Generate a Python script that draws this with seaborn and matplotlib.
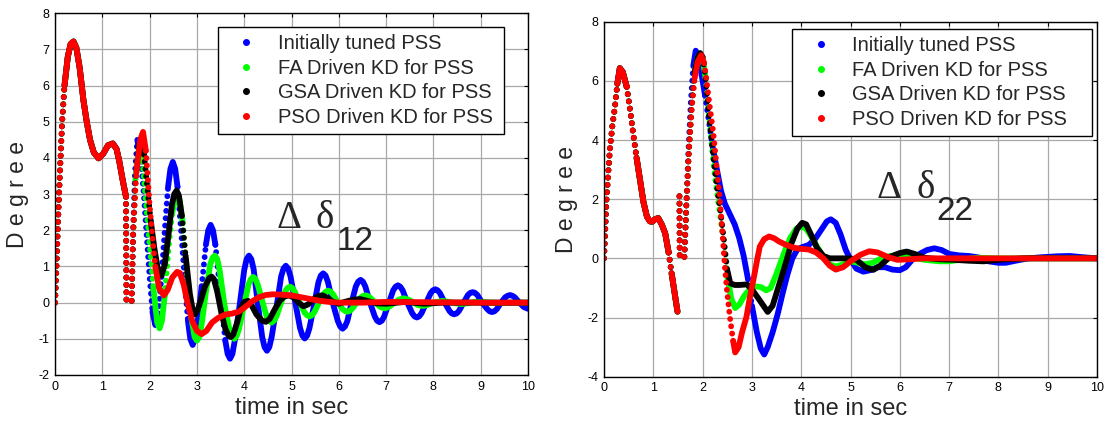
import numpy as np
import pandas as pd
import matplotlib
matplotlib.use("Agg")
import matplotlib.pyplot as plt
from matplotlib.lines import Line2D
import seaborn as sns

sns.set_style("white")
plt.rcParams["font.family"] = ["Liberation Sans", "DejaVu Sans"]
plt.rcParams["axes.unicode_minus"] = False

# ---------------- Delta delta_12 (left panel) ----------------
# part shared by all controllers, ending with the jump at the switching instant
t12_pre = [0.0, 0.03, 0.07, 0.10, 0.15, 0.20, 0.27, 0.33, 0.39, 0.45, 0.52, 0.60,
           0.67, 0.74, 0.82, 0.92, 1.02, 1.12, 1.22, 1.30, 1.36, 1.43, 1.50, 1.51]
d12_pre = [0.0, 1.0, 2.5, 3.5, 5.0, 6.0, 6.8, 7.15, 7.22, 7.05, 6.5, 5.6,
           5.0, 4.5, 4.15, 3.99, 4.12, 4.35, 4.40, 4.25, 3.9, 3.39, 2.93, 0.05]

t12_blue = [1.62, 1.65, 1.69, 1.74, 1.80, 1.87, 1.94, 2.00, 2.06, 2.12, 2.18, 2.25,
            2.33, 2.39, 2.44, 2.49, 2.54, 2.59, 2.67, 2.76, 2.81, 2.86, 2.91, 2.96,
            3.01, 3.10, 3.19, 3.24, 3.29, 3.34, 3.39, 3.50, 3.60, 3.65, 3.70, 3.75,
            3.80, 3.90, 4.00, 4.05, 4.10, 4.15, 4.20, 4.29, 4.38, 4.43, 4.48, 4.53,
            4.58, 4.68, 4.78, 4.83, 4.88, 4.93, 4.98, 5.08, 5.18, 5.23, 5.28, 5.33,
            5.38, 5.48, 5.57, 5.62, 5.67, 5.72, 5.77, 5.87, 5.98, 6.03, 6.08, 6.13,
            6.18, 6.27, 6.36, 6.41, 6.46, 6.51, 6.56, 6.66, 6.76, 6.81, 6.86, 6.91,
            6.96, 7.06, 7.15, 7.20, 7.25, 7.30, 7.35, 7.45, 7.55, 7.60, 7.65, 7.70,
            7.75, 7.85, 7.94, 7.99, 8.04, 8.09, 8.14, 8.24, 8.34, 8.39, 8.44, 8.49,
            8.54, 8.64, 8.73, 8.78, 8.83, 8.88, 8.93, 9.03, 9.14, 9.19, 9.24, 9.29,
            9.34, 9.43, 9.52, 9.57, 9.62, 9.67, 9.72, 9.82, 9.91, 10.0]
d12_blue = [0.05, 2.0, 3.6, 4.5, 4.1, 3.1, 1.8, 0.7, -0.25, -0.62, -0.3, 0.7,
            2.2, 3.2, 3.7, 3.89, 3.7, 3.2, 1.9, 0.3, -0.5, -1.0, -1.17, -1.0,
            -0.6, 0.45, 1.6, 2.0, 2.15, 2.0, 1.6, 0.2, -1.05, -1.42, -1.55, -1.42,
            -1.05, -0.1, 0.9, 1.2, 1.30, 1.2, 0.92, -0.05, -0.95, -1.23, -1.33, -1.23,
            -0.95, -0.15, 0.72, 0.94, 1.02, 0.94, 0.72, 0.0, -0.7, -0.91, -0.99, -0.91,
            -0.7, -0.05, 0.57, 0.75, 0.81, 0.75, 0.57, 0.0, -0.51, -0.66, -0.72, -0.66,
            -0.51, 0.0, 0.45, 0.58, 0.63, 0.58, 0.45, 0.0, -0.38, -0.5, -0.54, -0.5,
            -0.38, 0.0, 0.34, 0.44, 0.48, 0.44, 0.34, 0.0, -0.29, -0.38, -0.41, -0.38,
            -0.29, 0.0, 0.26, 0.34, 0.37, 0.34, 0.26, 0.0, -0.23, -0.3, -0.32, -0.3,
            -0.23, 0.0, 0.21, 0.27, 0.29, 0.27, 0.21, 0.0, -0.18, -0.24, -0.26, -0.24,
            -0.18, 0.0, 0.15, 0.19, 0.21, 0.19, 0.15, 0.0, -0.12, -0.17]

t12_fa = [1.62, 1.65, 1.70, 1.78, 1.85, 1.92, 2.00, 2.08, 2.16, 2.21, 2.26, 2.32,
          2.40, 2.48, 2.54, 2.59, 2.64, 2.70, 2.79, 2.88, 2.95, 3.00, 3.05, 3.10,
          3.19, 3.28, 3.33, 3.38, 3.43, 3.48, 3.58, 3.69, 3.74, 3.79, 3.84, 3.89,
          3.99, 4.09, 4.14, 4.19, 4.24, 4.29, 4.39, 4.48, 4.53, 4.58, 4.63, 4.68,
          4.78, 4.87, 4.92, 4.97, 5.02, 5.07, 5.17, 5.28, 5.33, 5.38, 5.43, 5.48,
          5.58, 5.68, 5.73, 5.78, 5.83, 5.88, 5.98, 6.08, 6.13, 6.18, 6.23, 6.28,
          6.38, 6.47, 6.52, 6.57, 6.62, 6.67, 6.77, 6.88, 6.98, 7.08, 7.18, 7.28,
          7.38, 7.48, 7.58, 7.68, 7.78, 7.88, 8.00, 8.20, 8.40, 8.60, 8.90, 9.40, 10.0]
d12_fa = [0.05, 1.8, 3.4, 4.35, 3.9, 2.8, 1.6, 0.4, -0.55, -0.71, -0.5, 0.2,
          1.5, 2.5, 2.85, 2.98, 2.8, 2.2, 0.8, -0.4, -0.95, -1.05, -0.95, -0.6,
          0.3, 1.05, 1.24, 1.30, 1.2, 0.9, -0.05, -0.75, -0.93, -1.0, -0.92, -0.72,
          -0.1, 0.5, 0.65, 0.71, 0.65, 0.48, 0.0, -0.4, -0.51, -0.55, -0.5, -0.38,
          0.0, 0.32, 0.41, 0.44, 0.4, 0.3, 0.0, -0.28, -0.35, -0.38, -0.35, -0.27,
          0.0, 0.24, 0.31, 0.33, 0.3, 0.23, 0.0, -0.18, -0.23, -0.25, -0.23, -0.17,
          0.0, 0.15, 0.19, 0.2, 0.18, 0.13, 0.0, -0.12, -0.16, -0.1, 0.0, 0.09,
          0.12, 0.08, 0.0, -0.07, -0.09, -0.06, 0.0, 0.05, 0.0, -0.04, 0.02, -0.01, 0.0]

t12_gsa = [1.62, 1.65, 1.70, 1.76, 1.82, 1.88, 1.95, 2.02, 2.10, 2.17, 2.25, 2.32,
           2.40, 2.47, 2.52, 2.57, 2.62, 2.68, 2.76, 2.85, 2.91, 2.96, 3.01, 3.08,
           3.17, 3.26, 3.31, 3.36, 3.43, 3.52, 3.60, 3.67, 3.72, 3.77, 3.85, 3.93,
           4.00, 4.08, 4.16, 4.26, 4.38, 4.46, 4.54, 4.64, 4.75, 4.85, 4.95, 5.05,
           5.15, 5.25, 5.35, 5.47, 5.58, 5.66, 5.76, 5.88, 6.00, 6.15, 6.30, 6.45,
           6.60, 6.80, 7.00, 7.40, 7.80, 8.20, 9.00, 10.0]
d12_gsa = [0.05, 1.8, 3.4, 4.3, 4.45, 4.1, 3.2, 2.3, 1.5, 0.95, 0.75, 1.05,
           1.9, 2.7, 3.0, 3.1, 2.95, 2.4, 1.3, 0.25, -0.2, -0.32, -0.22, 0.05,
           0.45, 0.68, 0.72, 0.65, 0.3, -0.3, -0.72, -0.92, -0.95, -0.88, -0.55, -0.15,
           0.02, 0.05, -0.08, -0.33, -0.5, -0.53, -0.45, -0.2, 0.05, 0.17, 0.2, 0.14,
           0.0, -0.1, -0.05, 0.1, 0.19, 0.2, 0.13, 0.02, -0.03, 0.03, 0.08, 0.1,
           0.05, -0.02, -0.03, 0.02, -0.03, 0.0, 0.0, 0.0]

t12_pso = [1.62, 1.65, 1.72, 1.80, 1.86, 1.92, 2.00, 2.06, 2.12, 2.20, 2.30, 2.38,
           2.48, 2.58, 2.64, 2.72, 2.80, 2.90, 3.00, 3.10, 3.20, 3.32, 3.45, 3.60,
           3.75, 3.90, 4.02, 4.15, 4.30, 4.45, 4.60, 4.80, 5.00, 5.20, 5.40, 5.60,
           5.80, 6.00, 6.50, 7.00, 8.00, 9.00, 10.0]
d12_pso = [0.05, 2.0, 3.6, 4.5, 4.72, 4.2, 2.7, 1.8, 1.0, 0.4, 0.2, 0.35,
           0.7, 0.85, 0.82, 0.5, 0.0, -0.5, -0.78, -0.87, -0.78, -0.55, -0.42, -0.33,
           -0.3, -0.24, -0.12, 0.02, 0.14, 0.21, 0.23, 0.22, 0.2, 0.15, 0.1, 0.05,
           0.02, 0.0, 0.0, 0.02, 0.01, 0.0, 0.0]

# ---------------- Delta delta_22 (right panel) ----------------
t22_pre = [0.0, 0.03, 0.05, 0.09, 0.12, 0.17, 0.22, 0.27, 0.32, 0.38, 0.46, 0.53,
           0.59, 0.66, 0.73, 0.80, 0.87, 0.93, 0.98, 1.04, 1.10, 1.17, 1.24, 1.31,
           1.37, 1.43, 1.49]
d22_pre = [0.0, 1.2, 2.0, 3.0, 3.7, 4.5, 5.1, 5.9, 6.43, 6.3, 5.8, 5.0,
           4.23, 3.4, 2.65, 1.9, 1.41, 1.25, 1.24, 1.33, 1.36, 1.15, 0.85, 0.2,
           -0.5, -1.15, -1.8]
t22_jump = [1.53, 1.535]
d22_jump = [2.1, 0.05]

t22_blue = [1.63, 1.67, 1.71, 1.76, 1.81, 1.86, 1.92, 1.98, 2.05, 2.12, 2.20, 2.29,
            2.37, 2.45, 2.55, 2.65, 2.74, 2.83, 2.92, 3.00, 3.10, 3.18, 3.25, 3.32,
            3.42, 3.52, 3.62, 3.72, 3.82, 3.92, 4.02, 4.15, 4.28, 4.40, 4.52, 4.60,
            4.70, 4.80, 4.90, 5.00, 5.12, 5.26, 5.40, 5.55, 5.70, 5.85, 6.00, 6.12,
            6.25, 6.40, 6.55, 6.70, 6.85, 7.00, 7.20, 7.40, 7.60, 7.80, 8.00, 8.15,
            8.35, 8.60, 8.90, 9.20, 9.45, 9.70, 10.0]
d22_blue = [0.05, 1.8, 3.6, 5.3, 6.5, 7.02, 6.8, 6.2, 5.5, 4.7, 3.8, 3.0,
            2.3, 1.85, 1.5, 1.15, 0.7, 0.1, -0.7, -1.6, -2.5, -3.05, -3.25, -3.0,
            -2.5, -1.9, -1.2, -0.55, 0.0, 0.3, 0.38, 0.45, 0.65, 0.95, 1.25, 1.32,
            1.2, 0.8, 0.3, -0.05, -0.35, -0.45, -0.4, -0.3, -0.3, -0.38, -0.4, -0.3,
            -0.05, 0.15, 0.28, 0.34, 0.28, 0.15, 0.1, 0.08, 0.03, -0.1, -0.15, -0.15,
            -0.08, 0.0, 0.04, 0.07, 0.08, 0.04, 0.0]

t22_fa = [1.63, 1.67, 1.72, 1.78, 1.84, 1.90, 1.95, 2.00, 2.06, 2.12, 2.18, 2.24,
          2.30, 2.36, 2.42, 2.50, 2.58, 2.66, 2.75, 2.85, 2.97, 3.08, 3.18, 3.29,
          3.38, 3.48, 3.58, 3.68, 3.78, 3.90, 4.00, 4.10, 4.20, 4.32, 4.45, 4.58,
          4.70, 4.85, 5.00, 5.15, 5.30, 5.45, 5.60, 5.80, 6.00, 6.20, 6.50, 6.80,
          7.00, 7.30, 7.60, 8.00, 9.00, 10.0]
d22_fa = [0.05, 1.8, 3.6, 5.2, 6.3, 6.8, 6.92, 6.75, 6.1, 5.0, 3.9, 2.9,
          2.1, 1.4, 0.6, -0.6, -1.35, -1.68, -1.55, -1.25, -1.02, -0.95, -0.97, -1.08,
          -1.0, -0.6, -0.15, 0.3, 0.7, 1.0, 1.08, 1.0, 0.75, 0.4, 0.05, -0.2,
          -0.28, -0.2, -0.1, -0.15, -0.2, -0.15, -0.02, 0.08, 0.11, 0.05, -0.05, -0.1,
          -0.1, -0.03, 0.02, 0.0, 0.0, 0.0]

t22_gsa = [1.63, 1.67, 1.72, 1.78, 1.84, 1.90, 1.95, 2.00, 2.06, 2.12, 2.18, 2.24,
           2.30, 2.36, 2.42, 2.50, 2.56, 2.65, 2.75, 2.90, 3.00, 3.15, 3.32, 3.42,
           3.55, 3.68, 3.80, 3.92, 4.02, 4.10, 4.20, 4.32, 4.45, 4.58, 4.80, 5.00,
           5.12, 5.30, 5.46, 5.60, 5.80, 6.00, 6.14, 6.30, 6.50, 6.80, 7.10, 7.40,
           7.70, 8.00, 8.50, 10.0]
d22_gsa = [0.05, 1.8, 3.6, 5.2, 6.3, 6.8, 6.94, 6.8, 6.1, 5.0, 4.0, 3.1,
           2.3, 1.6, 0.8, -0.4, -0.84, -0.9, -0.9, -0.88, -1.05, -1.4, -1.81, -1.6,
           -0.9, -0.2, 0.5, 1.0, 1.2, 1.15, 0.8, 0.35, 0.08, 0.0, 0.0, 0.0,
           -0.05, -0.3, -0.39, -0.25, 0.05, 0.18, 0.23, 0.15, 0.02, -0.03, -0.05, -0.08,
           -0.1, -0.05, 0.0, 0.0]

t22_pso = [1.63, 1.67, 1.72, 1.78, 1.84, 1.90, 1.97, 2.03, 2.08, 2.14, 2.22, 2.29,
           2.35, 2.40, 2.45, 2.50, 2.56, 2.62, 2.66, 2.73, 2.80, 2.89, 2.96, 3.03,
           3.10, 3.16, 3.25, 3.35, 3.45, 3.55, 3.70, 3.85, 4.00, 4.15, 4.30, 4.45,
           4.58, 4.70, 4.85, 5.00, 5.20, 5.38, 5.55, 5.75, 5.95, 6.20, 6.50, 7.00, 10.0]
d22_pso = [0.05, 1.8, 3.6, 5.1, 6.1, 6.65, 6.87, 6.6, 6.0, 5.2, 4.2, 3.0,
           2.0, 0.9, -0.28, -1.2, -2.08, -2.8, -3.18, -3.0, -2.5, -1.97, -1.3, -0.73,
           -0.1, 0.4, 0.65, 0.74, 0.68, 0.57, 0.45, 0.36, 0.32, 0.3, 0.2, 0.0,
           -0.25, -0.38, -0.3, -0.1, 0.12, 0.24, 0.2, 0.05, -0.05, -0.03, 0.0, 0.0, 0.0]

labels = ["Initially tuned PSS", "FA Driven KD for PSS",
          "GSA Driven KD for PSS", "PSO Driven KD for PSS"]
colors = ["#0000ff", "#00ff00", "#000000", "#ff0000"]

LW = 4.2
DOTS = (0, (0.01, 1.25))


def split_runs(pieces, steep_rate):
    """Split each (t, value) piece into runs of gentle and of steep slope.

    Steep runs are drawn as separated dots, the way densely sampled points
    spread apart where the response changes fast."""
    rows = {False: [], True: []}
    run = 0
    for tt, vv in pieces:
        cur_flag = None
        for i in range(len(tt) - 1):
            dt = max(tt[i + 1] - tt[i], 1e-6)
            flag = abs(vv[i + 1] - vv[i]) / dt > steep_rate
            if flag != cur_flag:
                run += 1
                cur_flag = flag
                rows[flag].append((tt[i], vv[i], run))
            rows[flag].append((tt[i + 1], vv[i + 1], run))
        run += 1
    return (pd.DataFrame(rows[False], columns=["t", "deg", "run"]),
            pd.DataFrame(rows[True], columns=["t", "deg", "run"]))


left_pieces = [
    [(t12_pre, d12_pre), (t12_blue, d12_blue)],
    [(t12_pre, d12_pre), (t12_fa, d12_fa)],
    [(t12_pre, d12_pre), (t12_gsa, d12_gsa)],
    [(t12_pre, d12_pre), (t12_pso, d12_pso)],
]
right_pieces = [
    [(t22_pre, d22_pre), (t22_jump, d22_jump), (t22_blue, d22_blue)],
    [(t22_pre, d22_pre), (t22_jump, d22_jump), (t22_fa, d22_fa)],
    [(t22_pre, d22_pre), (t22_jump, d22_jump), (t22_gsa, d22_gsa)],
    [(t22_pre, d22_pre), (t22_jump, d22_jump), (t22_pso, d22_pso)],
]

fig = plt.figure(figsize=(11.12, 4.23), dpi=100)
ax1 = fig.add_axes([0.0495, 0.1135, 0.4253, 0.8551])
ax2 = fig.add_axes([0.5432, 0.1095, 0.4433, 0.8392])


def style_axes(ax, ylim, yticks):
    ax.set_xlim(0, 10)
    ax.set_ylim(*ylim)
    ax.set_xticks(range(0, 11))
    ax.set_yticks(yticks)
    ax.set_axisbelow(True)
    ax.grid(True, color="#a8a8a8", linewidth=0.9)
    ax.tick_params(direction="in", length=3, width=0.8, top=True, right=True,
                   labelsize=9, pad=4, colors="black")
    for s in ax.spines.values():
        s.set_color("black")
        s.set_linewidth(1.0)
    ax.set_xlabel("time in sec", fontsize=17, labelpad=3)
    ax.set_ylabel("D e g r e e", fontsize=16.5, labelpad=7)


for ax, all_pieces, rate in ((ax1, left_pieces, 12.0), (ax2, right_pieces, 11.0)):
    for pieces, c in zip(all_pieces, colors):
        gentle, steep = split_runs(pieces, rate)
        sns.lineplot(data=gentle, x="t", y="deg", units="run", estimator=None,
                     sort=False, color=c, linewidth=LW, legend=False, ax=ax,
                     solid_capstyle="round", solid_joinstyle="round")
        if len(steep):
            sns.lineplot(data=steep, x="t", y="deg", units="run", estimator=None,
                         sort=False, color=c, linewidth=LW, legend=False, ax=ax,
                         linestyle=DOTS, dash_capstyle="round")

style_axes(ax1, (-2, 8), range(-2, 9))
style_axes(ax2, (-4, 8), range(-4, 9, 2))

handles = [Line2D([], [], linestyle="none", marker="o", markersize=4,
                  markerfacecolor=c, markeredgecolor=c) for c in colors]
for ax, anchor in ((ax1, (0.345, 0.30, 0.604, 0.662)), (ax2, (0.382, 0.30, 0.608, 0.679))):
    leg = ax.legend(handles, labels, loc="upper left", bbox_to_anchor=anchor,
                    mode="expand", fontsize=14.5, frameon=True, fancybox=False,
                    edgecolor="black", framealpha=1, borderpad=0.35,
                    labelspacing=0.28, handlelength=2.1, handletextpad=0.5,
                    borderaxespad=0)
    leg.get_frame().set_linewidth(1.0)

serif = "Liberation Serif"
ax1.text(4.69, 2.07, "Δ", fontfamily=serif, fontsize=28, va="baseline")
ax1.text(5.50, 2.07, "δ", fontfamily=serif, fontsize=28, va="baseline")
ax1.text(5.96, 1.45, "12", fontsize=24, va="baseline")
ax2.text(5.52, 2.04, "Δ", fontfamily=serif, fontsize=28, va="baseline")
ax2.text(6.33, 2.04, "δ", fontfamily=serif, fontsize=28, va="baseline")
ax2.text(6.75, 1.30, "22", fontsize=24, va="baseline")

fig.savefig("out.png", dpi=100)
